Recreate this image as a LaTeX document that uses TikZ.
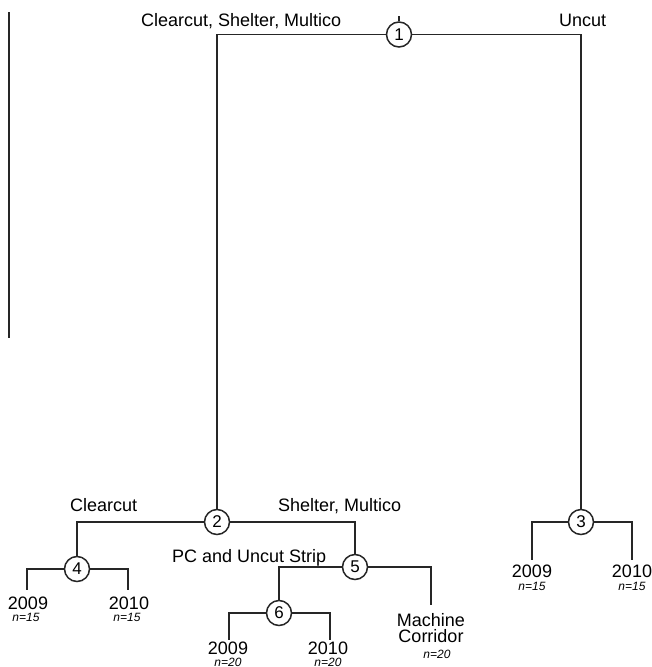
\documentclass[tikz,border=0pt]{standalone}
\usepackage{fontspec}
\setmainfont{Liberation Sans}
\begin{document}
\begin{tikzpicture}[x=1pt,y=-1pt,
  edge/.style={draw=black!85, line width=1.5pt},
  split/.style={circle, draw=black!85, line width=1.5pt, minimum size=25pt, inner sep=0pt, fill=white, font=\fontsize{17}{17}\selectfont},
  lab/.style={anchor=base west, inner sep=0pt, font=\fontsize{18}{20}\selectfont},
  yr/.style={anchor=base, inner sep=0pt, font=\fontsize{18}{20}\selectfont},
  nn/.style={anchor=base, inner sep=0pt, font=\fontsize{12}{12}\selectfont\itshape}]
\useasboundingbox (0,0) rectangle (651,667);

% split nodes
\node[split] (n1) at (399,34.5) {1};
\node[split] (n2) at (217,522) {2};
\node[split] (n3) at (581,522) {3};
\node[split] (n4) at (77,569) {4};
\node[split] (n5) at (355,567) {5};
\node[split] (n6) at (279,613) {6};

% free ends
\coordinate (b1) at (9,12);
\coordinate (b2) at (9,338);
\coordinate (t1) at (399,16);
\coordinate (e4a) at (27,590);
\coordinate (e4b) at (128,590);
\coordinate (e5b) at (431,605);
\coordinate (e6a) at (229,640);
\coordinate (e6b) at (330,640);
\coordinate (e3a) at (532,560);
\coordinate (e3b) at (632,560);

% connectors
\draw[edge] (b1) -- (b2);
\draw[edge] (t1) -- (n1.north);
\draw[edge] (n1.west) -| (n2.north);
\draw[edge] (n1.east) -| (n3.north);
\draw[edge] (n2.west) -| (n4.north);
\draw[edge] (n2.east) -| (n5.north);
\draw[edge] (n4.west) -| (e4a);
\draw[edge] (n4.east) -| (e4b);
\draw[edge] (n5.west) -| (n6.north);
\draw[edge] (n5.east) -| (e5b);
\draw[edge] (n6.west) -| (e6a);
\draw[edge] (n6.east) -| (e6b);
\draw[edge] (n3.west) -| (e3a);
\draw[edge] (n3.east) -| (e3b);

% branch labels
\node[lab] (l1a) at (141,26) {Clearcut, Shelter, Multico};
\node[lab] (l1b) at (559,26) {Uncut};
\node[lab] (l2a) at (70,511) {Clearcut};
\node[lab] (l2b) at (278,511) {Shelter, Multico};
\node[lab] (l5a) at (172,562) {PC and Uncut Strip};

% leaves
\node[yr] (y4a) at (28,609) {2009};
\node[nn] (m4a) at (26,621) {n=15};
\node[yr] (y4b) at (129,609) {2010};
\node[nn] (m4b) at (127,621) {n=15};

\node[yr] (y6a) at (228,654) {2009};
\node[nn] (m6a) at (228,666) {n=20};
\node[yr] (y6b) at (328,654) {2010};
\node[nn] (m6b) at (328,666) {n=20};

\node[yr] (y5b) at (431,626) {Machine};
\node[yr] (y5c) at (431,642) {Corridor};
\node[nn] (m5b) at (437,658) {n=20};

\node[yr] (y3a) at (532,577) {2009};
\node[nn] (m3a) at (532,590) {n=15};
\node[yr] (y3b) at (632,577) {2010};
\node[nn] (m3b) at (632,590) {n=15};
\end{tikzpicture}
\end{document}
